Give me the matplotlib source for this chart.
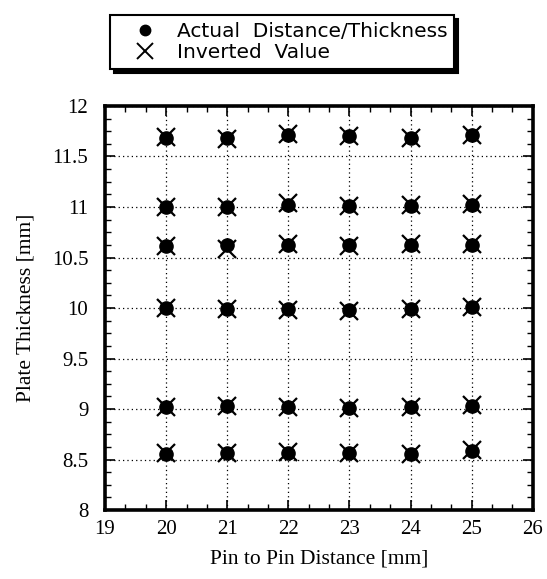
import matplotlib
matplotlib.use("Agg")
import matplotlib.pyplot as plt
from matplotlib.ticker import AutoMinorLocator
from matplotlib.lines import Line2D

pin_distance = [20, 21, 22, 23, 24, 25]
actual_rows = [
    [11.685, 11.685, 11.71, 11.70, 11.685, 11.71],
    [11.00, 11.00, 11.02, 11.01, 11.01, 11.02],
    [10.61, 10.62, 10.625, 10.62, 10.625, 10.625],
    [10.00, 9.995, 9.99, 9.985, 9.99, 10.01],
    [9.02, 9.03, 9.025, 9.015, 9.02, 9.035],
    [8.56, 8.565, 8.57, 8.565, 8.56, 8.58],
]
inverted_rows = [
    [11.69, 11.675, 11.72, 11.70, 11.68, 11.715],
    [11.00, 10.995, 11.035, 11.01, 11.015, 11.025],
    [10.615, 10.585, 10.63, 10.615, 10.63, 10.63],
    [10.005, 9.995, 9.985, 9.975, 9.995, 10.015],
    [9.02, 9.035, 9.025, 9.01, 9.02, 9.04],
    [8.565, 8.565, 8.575, 8.565, 8.56, 8.59],
]
x_ticks = [19, 20, 21, 22, 23, 24, 25, 26]
y_ticks = [8, 8.5, 9, 9.5, 10, 10.5, 11, 11.5, 12]
y_tick_labels = ["8", "8.5", "9", "9.5", "10", "10.5", "11", "11.5", "12"]

fig = plt.figure(figsize=(5.47, 5.79), dpi=100)
ax = fig.add_axes([0.192, 0.119, 0.782, 0.698])

for a_row, i_row in zip(actual_rows, inverted_rows):
    ax.plot(pin_distance, a_row, linestyle="none", marker="o", markersize=9.5,
            color="black")
    ax.plot(pin_distance, i_row, linestyle="none", marker="x", markersize=12.5,
            markeredgewidth=1.6, color="black")

ax.set_xlim(19, 26)
ax.set_ylim(8, 12)
ax.set_xticks(x_ticks)
ax.set_yticks(y_ticks)
ax.set_yticklabels(y_tick_labels)
ax.xaxis.set_minor_locator(AutoMinorLocator(3))
ax.yaxis.set_minor_locator(AutoMinorLocator(4))
ax.grid(True, which="major", linestyle=(0, (1, 2.5)), color="black", linewidth=0.9)

serif = ["Liberation Serif", "DejaVu Serif"]
ax.tick_params(which="both", direction="in", top=True, right=True, color="black")
ax.tick_params(which="major", length=7, width=1.2)
ax.tick_params(which="minor", length=4, width=1.0)
ax.tick_params(axis="x", pad=7)
ax.tick_params(axis="y", pad=12)
for lab in ax.get_xticklabels() + ax.get_yticklabels():
    lab.set_fontfamily(serif)
    lab.set_fontsize(15)
for sp in ax.spines.values():
    sp.set_linewidth(2.6)
    sp.set_color("black")

ax.set_xlabel("Pin to Pin Distance [mm]", fontfamily=serif, fontsize=15.5, labelpad=8)
ax.set_ylabel("Plate Thickness [mm]", fontfamily=serif, fontsize=15.5, labelpad=12)

handles = [
    Line2D([], [], linestyle="none", marker="o", markersize=7.5, color="black"),
    Line2D([], [], linestyle="none", marker="x", markersize=11, markeredgewidth=1.4,
           color="black"),
]
labels = ["Actual  Distance/Thickness", "Inverted  Value"]
leg = fig.legend(handles, labels, loc="center", bbox_to_anchor=(0.516, 0.927),
                 bbox_transform=fig.transFigure,
                 prop={"family": "DejaVu Sans", "size": 14.5},
                 frameon=True, fancybox=False, edgecolor="black",
                 handlelength=2.8, handletextpad=0.15, borderpad=0.35,
                 labelspacing=0.1,
                 shadow={"color": "black", "alpha": 1.0, "ox": 2.5, "oy": -2.5})
leg.get_frame().set_linewidth(1.5)

fig.savefig("out.png", dpi=100)
